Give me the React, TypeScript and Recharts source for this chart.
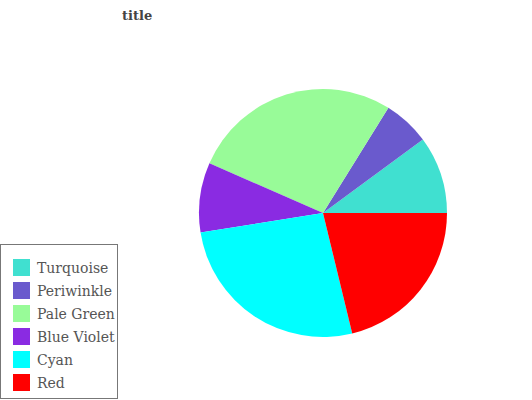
import React from 'react';
import { PieChart, Pie, Cell, Legend } from 'recharts';

const names = ['Turquoise', 'Periwinkle', 'Pale Green', 'Blue Violet', 'Cyan', 'Red'];
const values = [10, 6, 27, 9, 26, 21];
const colors = ['#40E0D0', '#6A5ACD', '#98FB98', '#8A2BE2', '#00FFFF', '#FF0000'];

const data = names.map((name, i) => ({ name, value: values[i] }));

const font = '"DejaVu Serif", serif';

// keep the legend in data order (the default payload comes out sorted)
const LegendBox = () => (
  <div style={{ padding: '11px 0 0 12px', boxSizing: 'border-box' }}>
    {names.map((name, i) => (
      <div key={name} style={{ display: 'flex', alignItems: 'center', height: 23 }}>
        <span style={{ width: 17, height: 17, background: colors[i], display: 'inline-block' }} />
        <span style={{ marginLeft: 7, fontFamily: font, fontSize: 14, color: '#555' }}>{name}</span>
      </div>
    ))}
  </div>
);

const App: React.FC = () => {
  return (
    <div style={{ position: 'absolute', left: 0, top: 0, width: 532, height: 400, background: '#fff' }}>
      <div style={{ position: 'absolute', left: 122, top: 8, fontFamily: font, fontWeight: 'bold', fontSize: 13, color: '#444' }}>
        title
      </div>
      <PieChart width={532} height={400} margin={{ top: 0, right: 0, bottom: 0, left: 0 }}>
        <Pie
          data={data}
          dataKey="value"
          nameKey="name"
          cx={323}
          cy={213}
          outerRadius={124}
          startAngle={0}
          endAngle={360}
          stroke="none"
          isAnimationActive={false}
        >
          {data.map((d, i) => (
            <Cell key={d.name} fill={colors[i]} />
          ))}
        </Pie>
        <Legend
          layout="vertical"
          content={<LegendBox />}
          wrapperStyle={{ left: 0, top: 244, width: 118, height: 155, border: '1px solid #777', boxSizing: 'border-box', background: '#fff' }}
        />
      </PieChart>
    </div>
  );
};

export default App;
